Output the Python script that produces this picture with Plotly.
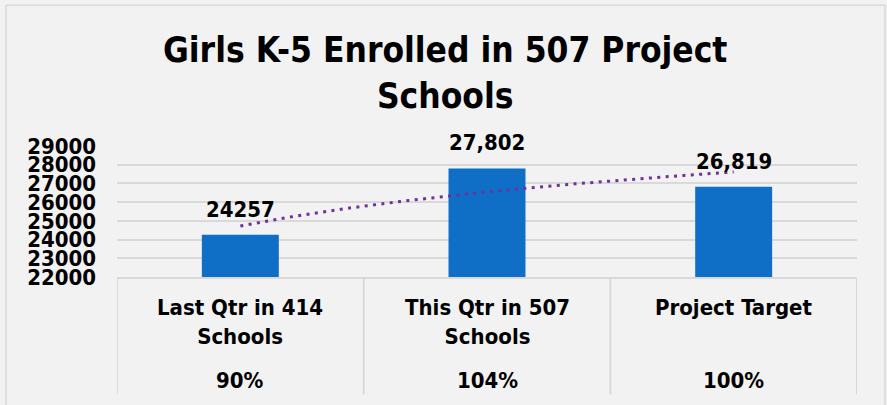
import numpy as np
import plotly.graph_objects as go

# ---- data ----
categories = ["Last Qtr in 414<br>Schools", "This Qtr in 507<br>Schools", "Project Target"]
percents = ["90%", "104%", "100%"]
values = [24257, 27802, 26819]
value_labels = ["24257", "27,802", "26,819"]
y_ticks = [22000, 23000, 24000, 25000, 26000, 27000, 28000, 29000]
title_text = "Girls K-5 Enrolled in 507 Project<br>Schools"

FONT = "DejaVu Sans Condensed, Tahoma, DejaVu Sans, sans-serif"
BAR = "#0f6fc6"
TREND = "#7030a0"
GRID = "#d9d9d9"
BG = "#f2f2f2"

W, H = 887, 405
L, R, T, B = 117, 30, 145.7, 405 - 276.7
ph = H - T - B
pw = W - L - R

def py(pix):  # pixel row -> paper y
    return (H - B - pix) / ph

def px(pix):  # pixel col -> paper x
    return (pix - L) / pw

def f(size):
    return dict(family=FONT, size=size, color="#000000", weight="bold")

xpos = list(range(len(values)))

fig = go.Figure()
fig.add_trace(go.Bar(x=xpos, y=values, width=0.312,
                     marker=dict(color=BAR, line=dict(width=0)),
                     hoverinfo="skip"))

# logarithmic trendline (least squares on ln(x))
b, a = np.polyfit(np.log(np.array(xpos) + 1.0), values, 1)
tx = np.linspace(0, len(values) - 1, 200)
ty = a + b * np.log(tx + 1.0)
fig.add_trace(go.Scatter(x=tx, y=ty, mode="lines",
                         line=dict(color=TREND, width=3, dash="3px,5.4px"),
                         hoverinfo="skip"))

ann = []
ann.append(dict(x=px(445), y=py(27.5), xref="paper", yref="paper", text=title_text,
                showarrow=False, xanchor="center", yanchor="top", font=f(35)))
for i, (v, lab) in enumerate(zip(values, value_labels)):
    ann.append(dict(x=i, y=v, xref="x", yref="y", text=lab, showarrow=False,
                    yanchor="bottom", yshift=11, font=f(22)))
for i, (c, p) in enumerate(zip(categories, percents)):
    ann.append(dict(x=i, y=py(292.5), xref="x", yref="paper", text=c, showarrow=False,
                    yanchor="top", font=f(22)))
    ann.append(dict(x=i, y=py(365.2), xref="x", yref="paper", text=p, showarrow=False,
                    yanchor="top", font=f(22)))

shapes = []
for xb in [-0.5, 0.5, 1.5, 2.5]:
    shapes.append(dict(type="line", xref="x", yref="paper", x0=xb, x1=xb,
                       y0=0, y1=py(394), line=dict(color=GRID, width=2)))
shapes.append(dict(type="rect", xref="paper", yref="paper",
                   x0=px(6), x1=px(885), y0=py(5), y1=py(412),
                   line=dict(color=GRID, width=1.5), fillcolor="rgba(0,0,0,0)", layer="below"))

fig.update_layout(
    width=W, height=H,
    margin=dict(l=L, r=R, t=T, b=B, pad=0),
    paper_bgcolor=BG, plot_bgcolor=BG,
    showlegend=False,
    xaxis=dict(range=[-0.5, 2.5], showticklabels=False, showgrid=False, zeroline=False,
               showline=True, linecolor=GRID, linewidth=2, ticks="", fixedrange=True),
    yaxis=dict(range=[22000, 29000], tickvals=y_ticks, tickformat="d",
               showgrid=True, gridcolor=GRID, gridwidth=1.5, zeroline=False,
               showline=False, ticks="", ticklabelstandoff=20,
               tickfont=f(22), fixedrange=True),
    annotations=ann, shapes=shapes,
)

fig.write_html("out.html",
               config={"displayModeBar": False},
               post_script="document.body.style.margin='0';document.body.style.overflow='hidden';")
